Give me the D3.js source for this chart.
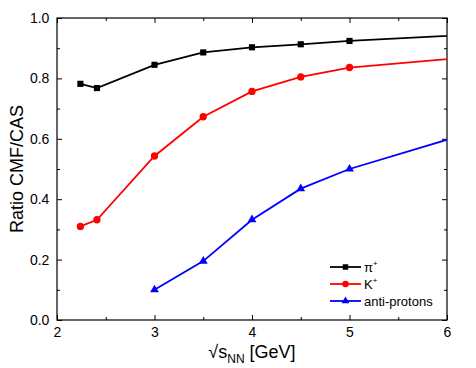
<!DOCTYPE html>
<html lang="en">
<head>
<meta charset="UTF-8">
<title>Ratio CMF/CAS</title>
<style>
  body { margin: 0; background: #fff; }
  text { font-family: "Liberation Sans", Arial, sans-serif; }
</style>
</head>
<body>
<div id="chart"></div>
<script src="https://cdn.jsdelivr.net/npm/d3@7"></script>
<script>
    const width = 476, height = 368;
    const margin = {top: 18, left: 57, bottom: 48, right: 29};

    // data (lines run past the right frame and are clipped)
    const piX = [2.24, 2.41, 3, 3.5, 4, 4.5, 5, 7];
    const piY = [0.782, 0.768, 0.845, 0.886, 0.903, 0.913, 0.924, 0.958];
    const kX = [2.24, 2.41, 3, 3.5, 4, 4.5, 5, 7];
    const kY = [0.31, 0.332, 0.543, 0.673, 0.757, 0.805, 0.836, 0.892];
    const pbarX = [3, 3.5, 4, 4.5, 5, 7];
    const pbarY = [0.1, 0.195, 0.332, 0.435, 0.5, 0.694];
    const xTicks = [2, 3, 4, 5, 6];
    const yTicks = [0.0, 0.2, 0.4, 0.6, 0.8, 1.0];

    const series = [
        {name: "π", sup: "+", color: "#000000", symbol: d3.symbolSquare, size: 38, x: piX, y: piY},
        {name: "K", sup: "+", color: "#ff0000", symbol: d3.symbolCircle, size: 42, x: kX, y: kY},
        {name: "anti-protons", sup: "", color: "#0000ff", symbol: d3.symbolTriangle, size: 34, x: pbarX, y: pbarY}
    ];

    const w = width - margin.left - margin.right,
        h = height - margin.top - margin.bottom;

    const xScale = d3.scaleLinear().domain([2, 6]).range([0, w]);
    const yScale = d3.scaleLinear().domain([0, 1]).range([h, 0]);

    const svg = d3.select("#chart").append("svg")
        .attr("width", width)
        .attr("height", height);

    svg.append("defs").append("clipPath").attr("id", "clip")
        .append("rect").attr("width", w).attr("height", h);

    const g = svg.append("g")
        .attr("transform", `translate(${margin.left},${margin.top})`);

    const minorX = d3.range(2.5, 6, 1);
    const minorY = d3.range(0.1, 1, 0.2);

    function ticks(axisFn, scale, vals, size, labels, pad) {
        return axisFn(scale).tickValues(vals).tickSizeInner(-size).tickSizeOuter(0)
            .tickPadding(size + (pad || 4))
            .tickFormat(labels ? labels : () => "");
    }

    // bottom
    g.append("g").attr("class", "xaxis").attr("transform", `translate(0,${h})`)
        .call(ticks(d3.axisBottom, xScale, xTicks, 5, d3.format("d"), 2));
    g.append("g").attr("transform", `translate(0,${h})`)
        .call(ticks(d3.axisBottom, xScale, minorX, 3));
    // top
    g.append("g").call(ticks(d3.axisTop, xScale, xTicks, 5));
    g.append("g").call(ticks(d3.axisTop, xScale, minorX, 3));
    // left
    g.append("g").attr("class", "yaxis")
        .call(ticks(d3.axisLeft, yScale, yTicks, 5, d3.format(".1f")));
    g.append("g").call(ticks(d3.axisLeft, yScale, minorY, 3));
    // right
    g.append("g").attr("transform", `translate(${w},0)`)
        .call(ticks(d3.axisRight, yScale, yTicks, 5));
    g.append("g").attr("transform", `translate(${w},0)`)
        .call(ticks(d3.axisRight, yScale, minorY, 3));

    g.selectAll(".domain").remove();
    g.selectAll(".tick line").attr("stroke", "#000").attr("stroke-width", 1);
    g.selectAll(".xaxis text, .yaxis text").attr("font-size", 14).attr("fill", "#000");
    g.selectAll(".yaxis .tick text").attr("dx", "0.1em");

    g.append("rect").attr("width", w).attr("height", h)
        .attr("fill", "none").attr("stroke", "#000").attr("stroke-width", 1.2);

    const line = d3.line().x(d => xScale(d[0])).y(d => yScale(d[1]));

    const plot = g.append("g").attr("clip-path", "url(#clip)");
    series.forEach(s => {
        const pts = s.x.map((v, i) => [v, s.y[i]]);
        plot.append("path").datum(pts)
            .attr("d", line)
            .attr("fill", "none")
            .attr("stroke", s.color)
            .attr("stroke-width", 1.8);
        plot.selectAll(null).data(pts.filter(p => p[0] < 6))
            .join("path")
            .attr("d", d3.symbol().type(s.symbol).size(s.size))
            .attr("transform", d => `translate(${xScale(d[0])},${yScale(d[1])})`)
            .attr("fill", s.color);
    });

    // legend
    const legend = g.append("g").attr("transform", `translate(${w - 117},${h - 53})`);
    series.forEach((s, i) => {
        const row = legend.append("g").attr("transform", `translate(0,${i * 17})`);
        row.append("line").attr("x1", 0).attr("x2", 31)
            .attr("stroke", s.color).attr("stroke-width", 1.8);
        row.append("path").attr("d", d3.symbol().type(s.symbol).size(s.size * 0.8))
            .attr("transform", "translate(15.5,0)").attr("fill", s.color);
        const t = row.append("text").attr("x", 34).attr("y", 5)
            .attr("font-size", 13).attr("fill", "#000").text(s.name);
        if (s.sup) t.append("tspan").attr("font-size", 8).attr("dy", -6).text(s.sup);
    });

    // axis titles
    svg.append("text")
        .attr("transform", `translate(23,${margin.top + h / 2}) rotate(-90)`)
        .attr("text-anchor", "middle").attr("font-size", 18)
        .text("Ratio CMF/CAS");

    const xt = svg.append("text")
        .attr("x", margin.left + w / 2).attr("y", height - 10)
        .attr("text-anchor", "middle").attr("font-size", 18);
    xt.append("tspan").text("√s");
    xt.append("tspan").attr("font-size", 12).attr("dy", 5).text("NN");
    xt.append("tspan").attr("dy", -5).text(" [GeV]");
</script>
</body>
</html>
